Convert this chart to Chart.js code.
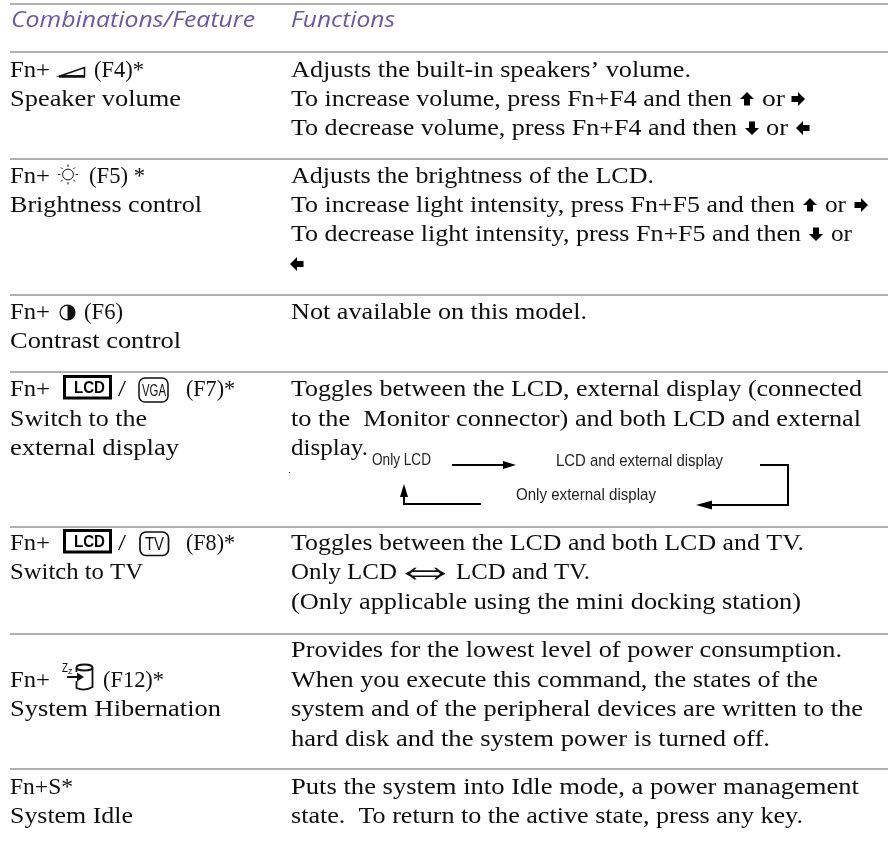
<!DOCTYPE html>
<html>
<head>
<meta charset="utf-8">
<title>Function key combinations</title>
<script src="https://cdn.jsdelivr.net/npm/chart.js@4/dist/chart.umd.min.js"></script>
<style>
  html, body { margin: 0; padding: 0; background: #fff; }
  canvas { display: block; }
</style>
</head>
<body>
<canvas id="keyTable" width="888" height="860"></canvas>
<script>
/* ==========================================================================
   KEY COMBINATION TABLE - text rows and rules on a page-sized scale
   ========================================================================== */

// Table content
const headerTexts = ['Combinations/Feature', 'Functions'];

const featureTexts = [
  'Fn+', '(F4)*', 'Speaker volume',
  'Fn+', '(F5) *', 'Brightness control',
  'Fn+', '(F6)', 'Contrast control',
  'Fn+', '/', '(F7)*', 'Switch to the', 'external display',
  'Fn+', '/', '(F8)*', 'Switch to TV',
  'Fn+', '(F12)*', 'System Hibernation',
  'Fn+S*', 'System Idle'
];

const functionTexts = [
  'Adjusts the built-in speakers\u2019 volume.',
  'To increase volume, press Fn+F4 and then', 'or',
  'To decrease volume, press Fn+F4 and then', 'or',
  'Adjusts the brightness of the LCD.',
  'To increase light intensity, press Fn+F5 and then', 'or',
  'To decrease light intensity, press Fn+F5 and then', 'or',
  'Not available on this model.',
  'Toggles between the LCD, external display (connected',
  'to the  Monitor connector) and both LCD and external',
  'display.',
  'Toggles between the LCD and both LCD and TV.',
  'Only LCD', 'LCD and TV.',
  '(Only applicable using the mini docking station)',
  'Provides for the lowest level of power consumption.',
  'When you execute this command, the states of the',
  'system and of the peripheral devices are written to the',
  'hard disk and the system power is turned off.',
  'Puts the system into Idle mode, a power management',
  'state.  To return to the active state, press any key.'
];

const diagramTexts = ['Only LCD', 'LCD and external display', 'Only external display'];

// Layout in page units: left edge, right edge, baseline for each text above
const headerLeft = [11, 291];
const headerRight = [255, 395];
const headerBase = [27, 27];

const featureLeft = [10, 94, 10, 10, 89, 10, 10, 84, 10, 10, 118, 186, 10, 10, 10, 118, 186, 10, 10, 103, 10, 10, 10];
const featureRight = [50, 144, 181, 50, 145, 202, 50, 123, 181, 50, 126, 235, 147, 179, 50, 126, 235, 143, 50, 164, 221, 73, 133];
const featureBase = [77, 77, 106, 183, 183, 212, 319, 319, 348, 396, 396, 396, 426, 455, 550, 550, 550, 579, 687, 687, 716, 794, 823];

const functionLeft = [291, 291, 762, 291, 766, 291, 291, 825, 291, 831, 291, 291, 291, 291, 291, 291, 456, 291, 291, 291, 291, 291, 291, 291];
const functionRight = [691, 732, 785, 737, 788, 654, 795, 846, 801, 852, 587, 862, 861, 368, 804, 397, 590, 801, 842, 818, 863, 770, 859, 803];
const functionBase = [77, 106, 106, 135, 135, 183, 212, 212, 241, 241, 319, 396, 426, 455, 550, 579, 579, 609, 657, 687, 716, 746, 794, 823];

const diagramLeft = [372, 556, 516];
const diagramRight = [431, 723, 656];
const diagramBase = [465, 466, 500];

// Horizontal table rules
const ruleRows = [4, 52, 159, 295, 372, 527, 634, 769];
const ruleStart = 10;
const ruleEnd = 888;

// Connector paths of the display-switching diagram
const connectorTop = [{ x: 452, y: 465 }, { x: 504, y: 465 }];
const connectorRight = [{ x: 760, y: 465 }, { x: 788, y: 465 }, { x: 788, y: 505 }, { x: 708, y: 505 }];
const connectorLeft = [{ x: 404, y: 494 }, { x: 404, y: 504 }, { x: 481, y: 504 }];

// Small block arrows inside the function text: centre and direction
const blockArrows = [
  { x: 747, y: 99, dir: 'up' }, { x: 798, y: 99, dir: 'right' },
  { x: 752, y: 128, dir: 'down' }, { x: 803, y: 128, dir: 'left' },
  { x: 810, y: 205, dir: 'up' }, { x: 861, y: 205, dir: 'right' },
  { x: 816, y: 234, dir: 'down' }, { x: 297, y: 264, dir: 'left' }
];

const INK = '#0f0f0f';
const SERIF = '"Liberation Serif", serif';

function fitText(ctx, str, font, color, x0, x1, baseline) {
  ctx.save();
  ctx.font = font;
  ctx.fillStyle = color;
  ctx.textBaseline = 'alphabetic';
  const measured = ctx.measureText(str).width;
  ctx.translate(x0, baseline);
  ctx.scale((x1 - x0) / measured, 1);
  ctx.fillText(str, 0, 0);
  ctx.restore();
}

function fillPolygon(ctx, points) {
  ctx.beginPath();
  points.forEach((p, i) => (i ? ctx.lineTo(p[0], p[1]) : ctx.moveTo(p[0], p[1])));
  ctx.closePath();
  ctx.fill();
}

function drawBlockArrow(ctx, x, y, dir) {
  const turn = { up: 0, right: Math.PI / 2, down: Math.PI, left: -Math.PI / 2 }[dir];
  ctx.save();
  ctx.translate(x, y);
  ctx.rotate(turn);
  ctx.fillStyle = '#000';
  fillPolygon(ctx, [[0, -7], [7, 0], [3, 0], [3, 6.5], [-3, 6.5], [-3, 0], [-7, 0]]);
  ctx.restore();
}

function roundedBox(ctx, x, y, w, h, r) {
  ctx.beginPath();
  ctx.roundRect(x, y, w, h, r);
  ctx.stroke();
}

// Key caps and symbols that sit inside the first column
function drawKeyIcons(ctx) {
  ctx.save();
  ctx.strokeStyle = INK;
  ctx.fillStyle = INK;

  // speaker wedge
  ctx.lineWidth = 1.5;
  ctx.beginPath();
  ctx.moveTo(60, 76);
  ctx.lineTo(84.5, 67.5);
  ctx.lineTo(84.5, 76);
  ctx.closePath();
  ctx.stroke();
  ctx.lineWidth = 2.5;
  ctx.beginPath();
  ctx.moveTo(59, 76.5);
  ctx.lineTo(85, 76.5);
  ctx.stroke();

  // brightness sun
  ctx.lineWidth = 1;
  ctx.beginPath();
  ctx.arc(68, 174.5, 5.4, 0, Math.PI * 2);
  ctx.stroke();
  for (let i = 0; i < 8; i++) {
    const a = (i * Math.PI) / 4;
    ctx.beginPath();
    ctx.moveTo(68 + Math.cos(a) * 7.6, 174.5 + Math.sin(a) * 7.6);
    ctx.lineTo(68 + Math.cos(a) * 10, 174.5 + Math.sin(a) * 10);
    ctx.stroke();
  }

  // contrast disc
  ctx.lineWidth = 1.3;
  ctx.beginPath();
  ctx.arc(67.5, 312.5, 7.4, 0, Math.PI * 2);
  ctx.stroke();
  ctx.beginPath();
  ctx.arc(67.5, 312.5, 7.4, -Math.PI / 2, Math.PI / 2);
  ctx.closePath();
  ctx.fill();

  // LCD keys
  [[376.5, 393], [530.5, 547]].forEach(([top, base]) => {
    ctx.lineWidth = 3;
    ctx.strokeStyle = '#000';
    ctx.strokeRect(64.5, top, 46, 21.5);
    fitText(ctx, 'LCD', 'bold 17px "Liberation Sans", sans-serif', '#000', 74, 105, base);
  });

  // VGA key
  ctx.lineWidth = 1.5;
  ctx.strokeStyle = INK;
  roundedBox(ctx, 139, 378, 29, 24, 6);
  fitText(ctx, 'VGA', '16px "Liberation Sans", sans-serif', INK, 142, 166, 396);

  // TV key
  ctx.lineWidth = 1.7;
  roundedBox(ctx, 140, 532, 28.5, 23.5, 6);
  fitText(ctx, 'TV', '18px "Liberation Sans", sans-serif', INK, 145, 164, 550);

  // hibernate drum with arrow
  ctx.lineWidth = 1.8;
  ctx.beginPath();
  ctx.ellipse(84.5, 667.5, 8, 3, 0, 0, Math.PI * 2);
  ctx.stroke();
  ctx.beginPath();
  ctx.moveTo(92.5, 667.5);
  ctx.lineTo(92.5, 687);
  ctx.quadraticCurveTo(84.5, 691.5, 76.5, 688);
  ctx.lineTo(76.5, 681);
  ctx.moveTo(76.5, 667.5);
  ctx.lineTo(76.5, 672);
  ctx.moveTo(67, 677);
  ctx.lineTo(79, 677);
  ctx.stroke();
  fillPolygon(ctx, [[84, 677], [77, 672.5], [77, 681.5]]);
  fitText(ctx, 'Z', '12px "Liberation Sans", sans-serif', INK, 62, 68, 672);
  fitText(ctx, 'z', '9px "Liberation Sans", sans-serif', INK, 68, 72.5, 674);

  ctx.restore();
}

// Texts and small symbols are placed through the chart's scales
const tableTextPlugin = {
  id: 'tableText',
  afterDatasetsDraw(chart) {
    const ctx = chart.ctx;
    const px = (v) => chart.scales.x.getPixelForValue(v);
    const py = (v) => chart.scales.y.getPixelForValue(v);

    const bodyFont = '24px ' + SERIF;
    const headFont = 'italic 22.5px "Open Sans", sans-serif';
    const noteFont = '17px "Liberation Sans", sans-serif';

    headerTexts.forEach((t, i) =>
      fitText(ctx, t, headFont, '#6a58a6', px(headerLeft[i]), px(headerRight[i]), py(headerBase[i])));
    featureTexts.forEach((t, i) =>
      fitText(ctx, t, bodyFont, INK, px(featureLeft[i]), px(featureRight[i]), py(featureBase[i])));
    functionTexts.forEach((t, i) =>
      fitText(ctx, t, bodyFont, INK, px(functionLeft[i]), px(functionRight[i]), py(functionBase[i])));
    diagramTexts.forEach((t, i) =>
      fitText(ctx, t, noteFont, '#222', px(diagramLeft[i]), px(diagramRight[i]), py(diagramBase[i])));

    blockArrows.forEach((a) => drawBlockArrow(ctx, px(a.x), py(a.y), a.dir));

    // double arrow between Only LCD and LCD and TV
    fitText(ctx, '\u21D4', '50px ' + SERIF, INK, px(392), px(459), py(585));

    // arrow heads of the diagram
    ctx.save();
    ctx.fillStyle = '#000';
    fillPolygon(ctx, [[px(516), py(465)], [px(503), py(461)], [px(503), py(469)]]);
    fillPolygon(ctx, [[px(696), py(505)], [px(712), py(500.5)], [px(712), py(509.5)]]);
    fillPolygon(ctx, [[px(404), py(484)], [px(400), py(497)], [px(408), py(497)]]);
    ctx.fillRect(px(289), py(472), 1, 1);
    ctx.restore();

    drawKeyIcons(ctx);
  }
};

function ruleDataset(row) {
  return {
    type: 'line',
    data: [{ x: ruleStart, y: row }, { x: ruleEnd, y: row }],
    borderColor: '#b0b0b0',
    borderWidth: 2,
    pointRadius: 0
  };
}

function connectorDataset(points) {
  return {
    type: 'line',
    data: points,
    borderColor: '#000',
    borderWidth: 2,
    borderJoinStyle: 'miter',
    pointRadius: 0,
    tension: 0
  };
}

new Chart(document.getElementById('keyTable').getContext('2d'), {
  type: 'scatter',
  data: {
    datasets: [
      ...ruleRows.map(ruleDataset),
      connectorDataset(connectorTop),
      connectorDataset(connectorRight),
      connectorDataset(connectorLeft)
    ]
  },
  options: {
    responsive: false,
    animation: false,
    events: [],
    layout: { padding: 0 },
    plugins: {
      legend: { display: false },
      tooltip: { enabled: false }
    },
    scales: {
      x: { type: 'linear', display: false, min: 0, max: 888 },
      y: { type: 'linear', display: false, min: 0, max: 860, reverse: true }
    }
  },
  plugins: [tableTextPlugin]
});
</script>
</body>
</html>
